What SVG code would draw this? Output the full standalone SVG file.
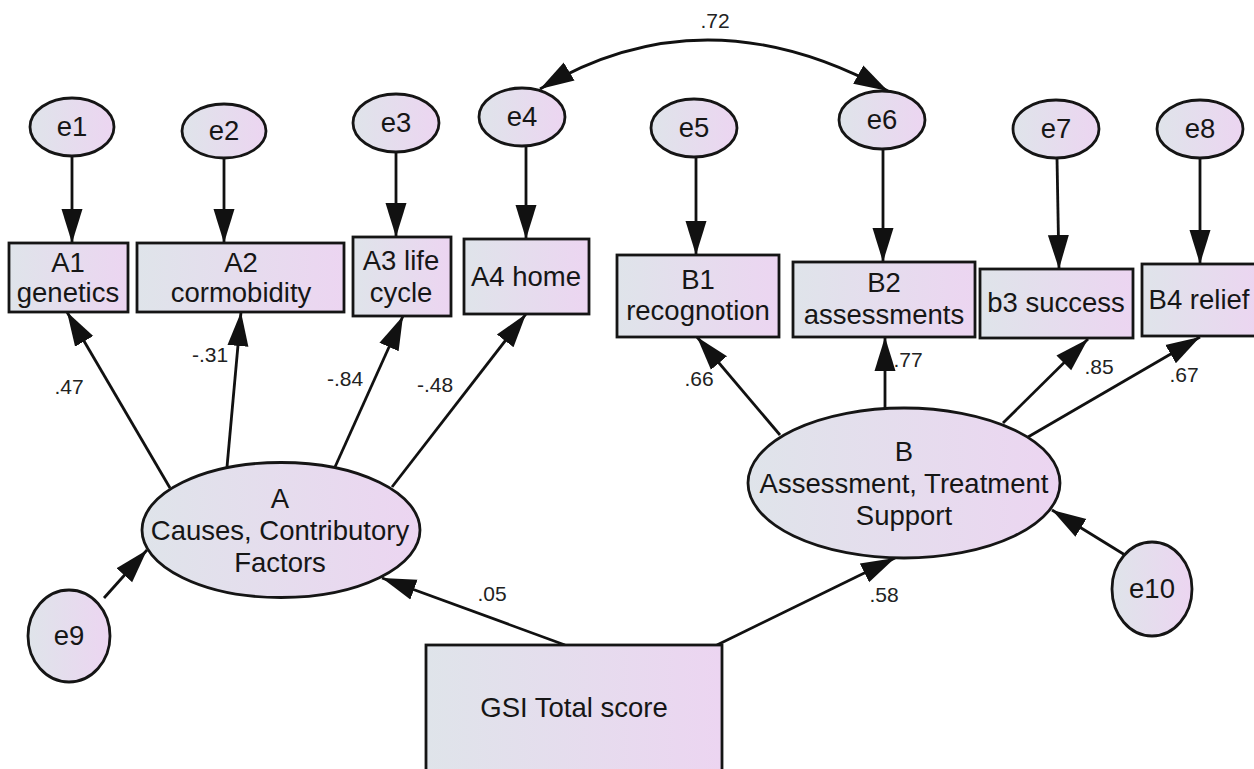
<svg xmlns="http://www.w3.org/2000/svg" width="1254" height="769" viewBox="0 0 1254 769">
  <defs>
    <linearGradient id="fill" x1="0" y1="0" x2="1" y2="0">
      <stop offset="0" stop-color="#dfe4ea"/>
      <stop offset="1" stop-color="#ecd5f1"/>
    </linearGradient>
    <marker id="head" markerUnits="userSpaceOnUse" markerWidth="36" markerHeight="24" viewBox="0 0 36 24" refX="34" refY="12" orient="auto-start-reverse">
      <path d="M0,1.5 L34,12 L0,22.5 Z" fill="#111"/>
    </marker>
    <style>
      .node { fill: url(#fill); stroke: #151515; stroke-width: 2.8; }
      .lbl { font-family: "Liberation Sans", Arial, sans-serif; font-size: 27.5px; fill: #161616; text-anchor: middle; }
      .coef { font-family: "Liberation Sans", Arial, sans-serif; font-size: 21px; fill: #222; text-anchor: middle; }
      .edge { fill: none; stroke: #111; stroke-width: 2.8; marker-end: url(#head); }
      .cov { fill: none; stroke: #111; stroke-width: 2.8; marker-start: url(#head); marker-end: url(#head); }
    </style>
  </defs>

  <!-- connectors -->
  <g id="connectors">
    <!-- error terms to indicators -->
    <line class="edge" x1="72" y1="157" x2="72" y2="243"/>
    <line class="edge" x1="224" y1="158" x2="224" y2="243"/>
    <line class="edge" x1="396" y1="152" x2="396" y2="237"/>
    <line class="edge" x1="526" y1="147" x2="526" y2="239"/>
    <line class="edge" x1="696" y1="157" x2="696" y2="255"/>
    <line class="edge" x1="883" y1="149" x2="883" y2="262"/>
    <line class="edge" x1="1057" y1="158" x2="1059" y2="269"/>
    <line class="edge" x1="1200" y1="157" x2="1200" y2="264"/>
    <!-- covariance e4 - e6 -->
    <path class="cov" d="M540,89 Q705,-10 888,91"/>
    <!-- factor A loadings -->
    <line class="edge" x1="170" y1="488" x2="67" y2="312"/>
    <line class="edge" x1="227" y1="467" x2="241" y2="312"/>
    <line class="edge" x1="335" y1="467" x2="403" y2="316"/>
    <line class="edge" x1="392" y1="487" x2="526" y2="314"/>
    <!-- factor B loadings -->
    <line class="edge" x1="780" y1="435" x2="697" y2="337"/>
    <line class="edge" x1="885" y1="408" x2="885" y2="337"/>
    <line class="edge" x1="1003" y1="423" x2="1088" y2="339"/>
    <line class="edge" x1="1028" y1="437" x2="1200" y2="337"/>
    <!-- disturbances -->
    <line class="edge" x1="104" y1="598" x2="147" y2="550"/>
    <line class="edge" x1="1125" y1="555" x2="1052" y2="510"/>
    <!-- structural paths -->
    <line class="edge" x1="565" y1="645" x2="382" y2="578"/>
    <line class="edge" x1="717" y1="645" x2="895" y2="558"/>
  </g>

  <!-- coefficients -->
  <g id="coefficients">
    <text class="coef" x="715" y="28">.72</text>
    <text class="coef" x="69" y="394">.47</text>
    <text class="coef" x="210" y="362">-.31</text>
    <text class="coef" x="345" y="386">-.84</text>
    <text class="coef" x="435" y="392">-.48</text>
    <text class="coef" x="699" y="386">.66</text>
    <text class="coef" x="908" y="367">.77</text>
    <text class="coef" x="1099" y="374">.85</text>
    <text class="coef" x="1184" y="382">.67</text>
    <text class="coef" x="492" y="601">.05</text>
    <text class="coef" x="884" y="602">.58</text>
  </g>

  <!-- error terms -->
  <g id="e1"><ellipse class="node" cx="72" cy="127" rx="42" ry="29"/><text class="lbl" x="72" y="136">e1</text></g>
  <g id="e2"><ellipse class="node" cx="224" cy="131" rx="42" ry="27"/><text class="lbl" x="224" y="140">e2</text></g>
  <g id="e3"><ellipse class="node" cx="396" cy="123" rx="43" ry="29"/><text class="lbl" x="396" y="132">e3</text></g>
  <g id="e4"><ellipse class="node" cx="522" cy="117" rx="43" ry="29"/><text class="lbl" x="522" y="126">e4</text></g>
  <g id="e5"><ellipse class="node" cx="694" cy="128" rx="43" ry="29"/><text class="lbl" x="694" y="137">e5</text></g>
  <g id="e6"><ellipse class="node" cx="882" cy="120" rx="43" ry="29"/><text class="lbl" x="882" y="129">e6</text></g>
  <g id="e7"><ellipse class="node" cx="1056" cy="129" rx="43" ry="29"/><text class="lbl" x="1056" y="138">e7</text></g>
  <g id="e8"><ellipse class="node" cx="1200" cy="129" rx="43" ry="29"/><text class="lbl" x="1200" y="138">e8</text></g>
  <g id="e9"><ellipse class="node" cx="69" cy="636" rx="41" ry="46"/><text class="lbl" x="69" y="645">e9</text></g>
  <g id="e10"><ellipse class="node" cx="1152" cy="589" rx="40" ry="47"/><text class="lbl" x="1152" y="598">e10</text></g>

  <!-- observed indicators -->
  <g id="A1"><rect class="node" x="9" y="243" width="119" height="69"/><text class="lbl" x="68" y="272">A1</text><text class="lbl" x="68" y="302">genetics</text></g>
  <g id="A2"><rect class="node" x="137" y="243" width="207" height="69"/><text class="lbl" x="241" y="272">A2</text><text class="lbl" x="241" y="302">cormobidity</text></g>
  <g id="A3"><rect class="node" x="353" y="237" width="98" height="79"/><text class="lbl" x="401" y="270">A3 life</text><text class="lbl" x="401" y="302">cycle</text></g>
  <g id="A4"><rect class="node" x="464" y="239" width="125" height="75"/><text class="lbl" x="526" y="286">A4 home</text></g>
  <g id="B1"><rect class="node" x="617" y="255" width="162" height="82"/><text class="lbl" x="698" y="289">B1</text><text class="lbl" x="698" y="320">recognotion</text></g>
  <g id="B2"><rect class="node" x="793" y="262" width="182" height="75"/><text class="lbl" x="884" y="292">B2</text><text class="lbl" x="884" y="324">assessments</text></g>
  <g id="b3"><rect class="node" x="980" y="269" width="153" height="69"/><text class="lbl" x="1056" y="312">b3 success</text></g>
  <g id="B4"><rect class="node" x="1142" y="264" width="120" height="72"/><text class="lbl" x="1199" y="309">B4 relief</text></g>

  <!-- latent factors -->
  <g id="A">
    <ellipse class="node" cx="281" cy="530" rx="139" ry="67.5"/>
    <text class="lbl" x="280" y="508">A</text>
    <text class="lbl" x="280" y="540">Causes, Contributory</text>
    <text class="lbl" x="280" y="572">Factors</text>
  </g>
  <g id="B">
    <ellipse class="node" cx="904" cy="483" rx="156" ry="75"/>
    <text class="lbl" x="904" y="461">B</text>
    <text class="lbl" x="904" y="493">Assessment, Treatment</text>
    <text class="lbl" x="904" y="525">Support</text>
  </g>

  <!-- exogenous predictor -->
  <g id="GSI">
    <rect class="node" x="426" y="645" width="296" height="140"/>
    <text class="lbl" x="574" y="717">GSI Total score</text>
  </g>
</svg>
